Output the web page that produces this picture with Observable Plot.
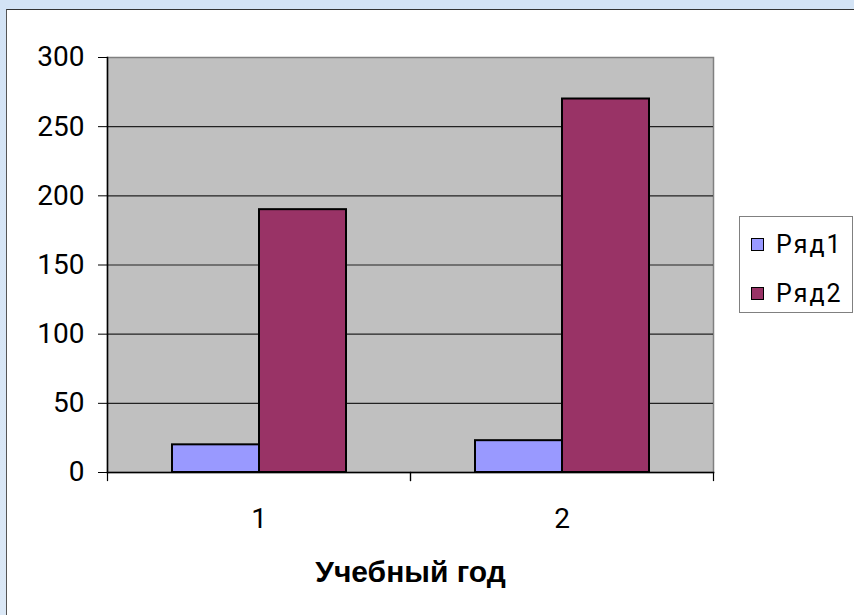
<!DOCTYPE html>
<html>
<head>
<meta charset="utf-8">
<script src="https://cdn.jsdelivr.net/npm/d3@7"></script>
<script src="https://cdn.jsdelivr.net/npm/@observablehq/plot@0.6"></script>
<style>
  html, body { margin: 0; padding: 0; }
  body { width: 854px; height: 615px; overflow: hidden; background: linear-gradient(180deg, #d3e3f5 0%, #dbe8f6 100%); position: relative; font-family: Roboto, "Liberation Sans", Arial, sans-serif; }
  #panel { position: absolute; left: 6px; top: 9px; right: -2px; bottom: -2px; background: #fff; border-top: 1px solid #333; border-left: 1px solid #555; }
  #legend { position: absolute; left: 732px; top: 206px; width: 114px; height: 97px; border: 1px solid #808080; background: #fff; box-sizing: border-box; padding: 3px 0 0 11px; }
  .item { display: flex; align-items: center; height: 49px; font-size: 25px; letter-spacing: 2px; color: #000; }
  .sw { width: 13px; height: 13px; border: 1.5px solid #000; margin-right: 12px; box-sizing: border-box; }
</style>
</head>
<body>
<div id="panel"><div id="chart"></div><div id="legend"></div></div>
<script>
const categories = ["1", "2"];
const series = ["Ряд1", "Ряд2"];
const values1 = [20, 23];
const values2 = [190, 270];
const yTicks = [0, 50, 100, 150, 200, 250, 300];
const seriesColors = ["#9999FF", "#993366"];
const xTitle = "Учебный год";

const data = [];
categories.forEach((c, i) => {
  data.push({cat: c, s: series[0], v: values1[i]});
  data.push({cat: c, s: series[1], v: values2[i]});
});

const W = 847, H = 605;
const mL = 100, mT = 47, mR = 141, mB = 143;
const plotH = H - mT - mB;

const chart = Plot.plot({
  width: W, height: H,
  marginLeft: mL, marginTop: mT, marginRight: mR, marginBottom: mB,
  style: {fontFamily: "Roboto, 'Liberation Sans', Arial, sans-serif", background: "transparent", color: "#000"},
  fx: {domain: categories, paddingInner: 0, paddingOuter: 0, label: null, axis: null},
  x: {domain: series, paddingInner: 0, paddingOuter: 0.73, axis: null},
  y: {domain: [0, 300], label: null},
  color: {domain: series, range: seriesColors},
  marks: [
    Plot.frame({facet: "super", fill: "#C0C0C0", stroke: "#808080", strokeWidth: 1.5}),
    Plot.gridY(yTicks.filter(t => t > 0 && t < 300), {stroke: "#222", strokeOpacity: 1, strokeWidth: 1.2}),
    Plot.barY(data, {fx: "cat", x: "s", y: "v", fill: "s", stroke: "#000", strokeWidth: 2}),
    Plot.frame({facet: "super", anchor: "left", stroke: "#000", strokeWidth: 1.5}),
    Plot.frame({facet: "super", anchor: "bottom", stroke: "#000", strokeWidth: 1.5}),
    Plot.frame({anchor: "left", stroke: "#000", strokeWidth: 1.2, insetTop: plotH, insetBottom: -8}),
    Plot.frame({anchor: "right", stroke: "#000", strokeWidth: 1.2, insetTop: plotH, insetBottom: -8}),
    Plot.axisY({ticks: yTicks, tickSize: 9, tickPadding: 14, fontSize: 28, stroke: "#000", label: null, tickFormat: d => String(d)}),
    Plot.axisFx({anchor: "bottom", tickSize: 0, tickPadding: 36, fontSize: 28, label: null}),
    Plot.text([xTitle], {facet: "super", frameAnchor: "bottom", dy: 109, fontSize: 30, fontWeight: "bold", fill: "#000", fontFamily: "'Liberation Sans', Arial, sans-serif"})
  ]
});
document.getElementById("chart").appendChild(chart);

const legend = document.getElementById("legend");
series.forEach((s, i) => {
  const it = document.createElement("div");
  it.className = "item";
  const sw = document.createElement("span");
  sw.className = "sw";
  sw.style.background = seriesColors[i];
  const t = document.createElement("span");
  t.textContent = s;
  it.appendChild(sw); it.appendChild(t);
  legend.appendChild(it);
});
</script>
</body>
</html>
